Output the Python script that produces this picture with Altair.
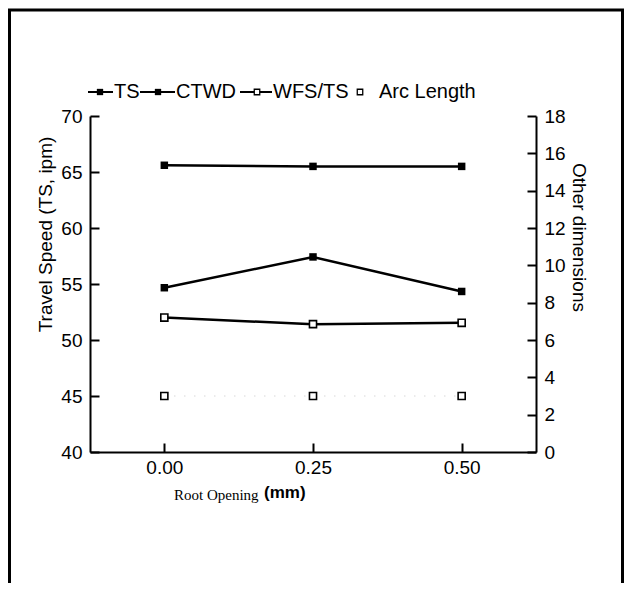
import altair as alt
import pandas as pd

# ---------------- data ----------------
root_opening = [0.0, 0.25, 0.5]
ts = [65.6, 65.5, 65.5]
ctwd = [8.8, 10.45, 8.6]
wfs_ts = [7.2, 6.85, 6.92]
arc_length = [3.0, 3.0, 3.0]
series_names = ["TS", "CTWD", "WFS/TS", "Arc Length"]
x_ticks = [0.0, 0.25, 0.5]
left_ticks = [40, 45, 50, 55, 60, 65, 70]
right_ticks = [0, 2, 4, 6, 8, 10, 12, 14, 16, 18]

FONT = "Liberation Sans"
W, H = 446, 336

left_df = pd.DataFrame({"root": root_opening, "value": ts, "series": "TS"})
right_df = pd.DataFrame({
    "root": root_opening * 3,
    "value": ctwd + wfs_ts + arc_length,
    "series": ["CTWD"] * 3 + ["WFS/TS"] * 3 + ["Arc Length"] * 3,
})

axis_common = dict(
    grid=False, domainColor="black", domainWidth=2, tickColor="black",
    tickWidth=2, tickSize=alt.ExprRef("-9"), labelFont=FONT, labelFontSize=19,
    labelColor="black", titleFont=FONT, titleFontSize=19, titleColor="black",
    titleFontWeight="normal",
)

x_enc = alt.X(
    "root:Q",
    scale=alt.Scale(domain=[-0.125, 0.625], nice=False, zero=False),
    axis=alt.Axis(values=x_ticks, format=".2f", title=None, labelPadding=15,
                  labelFlush=False, **axis_common),
)
y_left = alt.Y(
    "value:Q",
    scale=alt.Scale(domain=[40, 70], nice=False, zero=False),
    axis=alt.Axis(orient="left", values=left_ticks, title="Travel Speed (TS, ipm)",
                  titleX=-45, titleY=118, titleAngle=270, titleAlign="center",
                  titleBaseline="middle", labelPadding=17, labelFlush=False,
                  **axis_common),
)
y_right = alt.Y(
    "value:Q",
    scale=alt.Scale(domain=[0, 18], nice=False, zero=False),
    axis=alt.Axis(orient="right", values=right_ticks, title="Other dimensions",
                  titleX=42, titleY=121, titleAngle=90, titleAlign="center",
                  titleBaseline="middle", labelPadding=17, labelFlush=False,
                  **axis_common),
)

left = alt.Chart(left_df).encode(x=x_enc, y=y_left)
left_line = left.mark_line(color="black", strokeWidth=2.5)
left_pts = left.mark_square(size=56, color="black", opacity=1)
left_layer = alt.layer(left_line, left_pts)

right = alt.Chart(right_df).encode(x=x_enc, y=y_right)
right_lines = right.transform_filter(
    alt.FieldOneOfPredicate(field="series", oneOf=["CTWD", "WFS/TS"])
).mark_line(color="black", strokeWidth=2.5).encode(detail="series:N")
arc_dots = right.transform_filter(alt.datum.series == "Arc Length").mark_line(
    color="#c4c4c4", strokeWidth=1, strokeDash=[1, 9])
filled_pts = right.transform_filter(alt.datum.series == "CTWD").mark_square(
    size=56, color="black", opacity=1)
open_pts = right.transform_filter(alt.datum.series != "CTWD").mark_point(
    shape="square", size=50, filled=True, fill="white", stroke="black",
    strokeWidth=1.6, opacity=1)
right_layer = alt.layer(arc_dots, right_lines, filled_pts, open_pts)

one = alt.Data(values=[{}])

# ---------------- manual legend (page positions minus plot origin) ----------------
LY = -24
def leg_line(x1, x2):
    return alt.Chart(one).mark_rule(color="black", strokeWidth=2).encode(
        x=alt.value(x1), x2=alt.value(x2), y=alt.value(LY))

def leg_square(cx, filled):
    if filled:
        m = alt.Chart(one).mark_square(size=40, color="black", opacity=1)
    else:
        m = alt.Chart(one).mark_point(shape="square", size=30, filled=True,
                                      fill="white", stroke="black", strokeWidth=1.3,
                                      opacity=1)
    return m.encode(x=alt.value(cx), y=alt.value(LY))

def leg_text(x, s):
    return alt.Chart(one).mark_text(
        text=s, font=FONT, fontSize=20, align="left", baseline="middle",
        color="black").encode(x=alt.value(x), y=alt.value(LY))

legend_layers = [
    leg_line(-2, 23), leg_square(10, True), leg_text(24, series_names[0]),
    leg_line(50, 85), leg_square(68, True), leg_text(86, series_names[1]),
    leg_line(150, 182), leg_square(167, False), leg_text(183, series_names[2]),
    leg_square(270, False), leg_text(289, series_names[3]),
]

# ---------------- x title (mixed fonts) ----------------
xt1 = alt.Chart(one).mark_text(
    text="Root Opening", font="Liberation Serif", fontSize=15, align="left",
    baseline="middle", color="black").encode(x=alt.value(84), y=alt.value(379))
xt2 = alt.Chart(one).mark_text(
    text="(mm)", font=FONT, fontSize=17, fontWeight="bold", align="left",
    baseline="middle", color="black").encode(x=alt.value(174), y=alt.value(377))

# ---------------- outer frame ----------------
frame = alt.Chart(one).mark_rect(fill=None, stroke="black", strokeWidth=3).encode(
    x=alt.value(-80.5), x2=alt.value(532.5), y=alt.value(-106), y2=alt.value(700))

data_layers = alt.layer(left_layer, right_layer).resolve_scale(y="independent")

chart = alt.layer(
    data_layers, frame, xt1, xt2, *legend_layers
).properties(
    width=W, height=H,
    autosize=alt.AutoSizeParams(type="none"),
    padding={"left": 82, "top": 108, "right": 88, "bottom": 131},
    background="white",
).configure_view(stroke=None)

chart.save("out.html", embed_options={"renderer": "svg", "actions": False})
